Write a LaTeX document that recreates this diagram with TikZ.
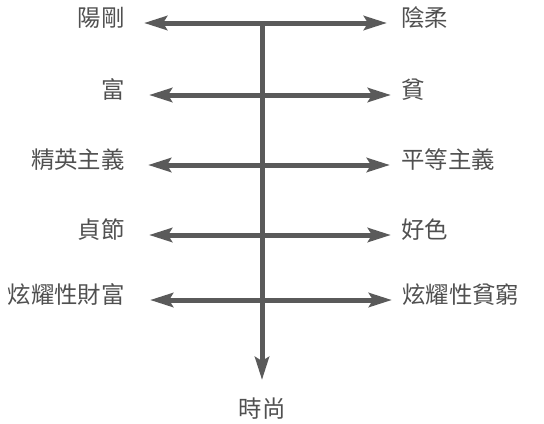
\documentclass[tikz,border=0pt]{standalone}
\usepackage{fontspec}
\newfontfamily\cjk{Noto Sans CJK TC}
\usetikzlibrary{arrows.meta}
\definecolor{linegray}{HTML}{5A5A5A}
\definecolor{textgray}{HTML}{505050}
\tikzset{
  >={Stealth[length=23bp,width=14bp,inset=4bp]},
  lbl/.style={font=\cjk\fontsize{23.5}{23.5}\selectfont, text=textgray, inner sep=0pt},
  leftlbl/.style={lbl, anchor=east},
  rightlbl/.style={lbl, anchor=west},
  axis/.style={draw=linegray, line width=5bp},
}
\begin{document}
\begin{tikzpicture}[x=1bp,y=-1bp]
\useasboundingbox (0,0) rectangle (544,423);
% labels
\node[leftlbl]  (l1) at (125,17.5) {陽剛};
\node[rightlbl] (r1) at (401,17.5) {陰柔};
\node[leftlbl]  (l2) at (125,89.5) {富};
\node[rightlbl] (r2) at (401,89.5) {貧};
\node[leftlbl]  (l3) at (125,159.5) {精英主義};
\node[rightlbl] (r3) at (401,159.5) {平等主義};
\node[leftlbl]  (l4) at (125,229.5) {貞節};
\node[rightlbl] (r4) at (401,229.5) {好色};
\node[leftlbl]  (l5) at (125,294.5) {炫耀性財富};
\node[rightlbl] (r5) at (402,294.5) {炫耀性貧窮};
\node[lbl] (b) at (262,409) {時尚};
% arrow ends
\coordinate (a1) at (144,23);  \coordinate (c1) at (262,23);  \coordinate (e1) at (387,23);
\coordinate (a2) at (149,95);  \coordinate (e2) at (391,95);
\coordinate (a3) at (148,165); \coordinate (e3) at (390,165);
\coordinate (a4) at (149,235); \coordinate (e4) at (391,235);
\coordinate (a5) at (150,300); \coordinate (e5) at (392,300);
\coordinate (bt) at (262,380);
% vertical axis
\draw[axis, ->] ([yshift=-2.5bp]c1) -- (bt);
% horizontal arrows
\foreach \i in {1,...,5} {
  \draw[axis, <->] (a\i) -- (e\i);
}
\end{tikzpicture}
\end{document}
